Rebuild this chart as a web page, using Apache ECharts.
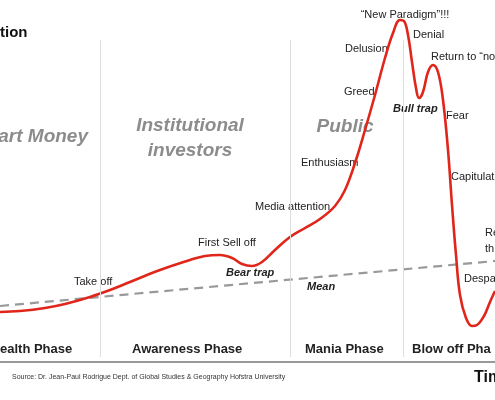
<!DOCTYPE html><html><head><meta charset="utf-8">
<script src="https://cdn.jsdelivr.net/npm/echarts@6/dist/echarts.min.js"></script>
<style>html,body{margin:0;padding:0;background:#fff}#c{width:495px;height:400px}</style></head><body><div id="c"></div>
<script>
const curveX=[0,20,45,65,90,110,130,160,190,205,220,232,242,252,262,275,290,305,320,335,345,355,365,375,385,393,400,404,408,412,416,419,423,428,433,438,443,448,452,456,460,466,472,477,484,490,495];
const curveY=[312,311,308,304,297,290,282,270,260,256,255,258,264,266,262,250,237,228,219,206,190,163,130,95,58,33,20,21,35,62,88,98,92,72,65,72,100,150,205,255,295,318,326,325,316,302,291];
const meanX=[0,495];
const meanY=[306,261];
const phaseNames=["ealth Phase","Awareness Phase","Mania Phase","Blow off Pha"];
const phaseX=[0,132,305,412];
const dividers=[100,290,403];
const notes=[["“New Paradigm”!!!",405,15,"center",false],["Denial",413,35,"left",false],["Delusion",345,49,"left",false],["Return to “no",431,57,"left",false],["Greed",344,92,"left",false],["Bull trap",393,109,"left",true],["Fear",446,116,"left",false],["Enthusiasm",301,163,"left",false],["Capitulat",451,177,"left",false],["Media attention",255,207,"left",false],["Re",485,233,"left",false],["th",485,249,"left",false],["First Sell off",198,243,"left",false],["Bear trap",226,273,"left",true],["Take off",74,282,"left",false],["Despa",464,279,"left",false],["Mean",307,287,"left",true]];
const groups=[["Smart Money",88,137,"right"],["Institutional",190,126,"center"],["investors",190,151,"center"],["Public",345,127,"center"]];
const ch=echarts.init(document.getElementById('c'));
const g=[];
notes.forEach(n=>g.push({type:'text',x:n[1],y:n[2],style:{text:n[0],fill:'#222',font:(n[4]?'italic bold ':'')+'11px "Liberation Sans", Arial',textAlign:n[3],textVerticalAlign:'middle'}}));
groups.forEach(n=>g.push({type:'text',x:n[1],y:n[2],style:{text:n[0],fill:'#8c8c8c',font:'italic bold 19px "Liberation Sans", Arial',textAlign:n[3],textVerticalAlign:'middle'}}));
phaseNames.forEach((p,i)=>g.push({type:'text',x:phaseX[i],y:349,style:{text:p,fill:'#222',font:'bold 13px "Liberation Sans", Arial',textAlign:'left',textVerticalAlign:'middle'}}));
g.push({type:'text',x:0,y:33,style:{text:'tion',fill:'#111',font:'bold 15px "Liberation Sans", Arial',textAlign:'left',textVerticalAlign:'middle'}});
g.push({type:'text',x:474,y:378,style:{text:'Tim',fill:'#111',font:'bold 16px "Liberation Sans", Arial',textAlign:'left',textVerticalAlign:'middle'}});
g.push({type:'text',x:12,y:377,style:{text:'Source: Dr. Jean-Paul Rodrigue Dept. of Global Studies & Geography Hofstra University',fill:'#333',font:'7px "Liberation Sans", Arial',textAlign:'left',textVerticalAlign:'middle'}});
ch.setOption({animation:false,graphic:g,
grid:{left:0,right:0,top:0,bottom:0},
xAxis:{type:'value',min:0,max:495,show:false},
yAxis:{type:'value',min:0,max:400,inverse:true,show:false},
series:[
{type:'line',data:meanX.map((x,i)=>[x,meanY[i]]),symbol:'none',lineStyle:{color:'#999',width:2.2,type:[9,6]},z:2},
{type:'line',data:curveX.map((x,i)=>[x,curveY[i]]),symbol:'none',smooth:0.4,lineStyle:{color:'#e0261b',width:2.6},z:3,
 markLine:{silent:true,symbol:'none',label:{show:false},lineStyle:{color:'#ddd',width:1,type:'solid'},
 data:[...dividers.map(d=>[{coord:[d,40]},{coord:[d,357]}]),[{coord:[0,362],lineStyle:{color:'#999',width:2}},{coord:[495,362]}]]}}
]});
</script></body></html>
